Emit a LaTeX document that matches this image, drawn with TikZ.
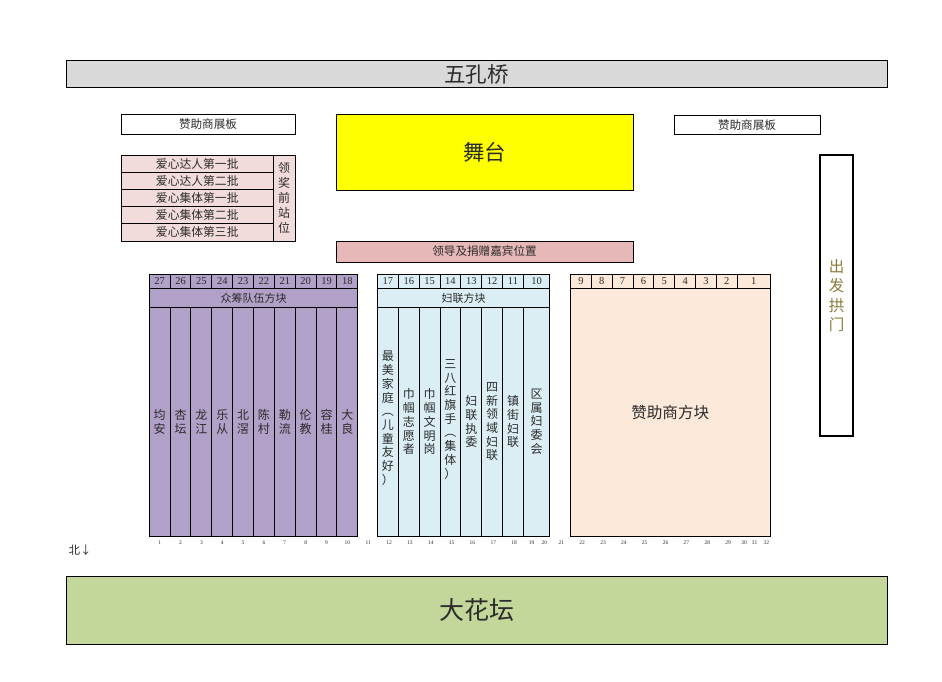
\documentclass[tikz,border=0pt]{standalone}
\usepackage{fontspec}
\usepackage{xcolor}
\setmainfont{Liberation Serif}
\newfontfamily\cjk{Noto Sans CJK SC}
\usetikzlibrary{positioning}
\definecolor{bridgegray}{HTML}{D9D9D9}
\definecolor{stageyellow}{HTML}{FFFF00}
\definecolor{guestpink}{HTML}{E6B8B7}
\definecolor{awardpink}{HTML}{F2DCDB}
\definecolor{crowdpurple}{HTML}{B1A0C7}
\definecolor{womenblue}{HTML}{DAEEF3}
\definecolor{sponsorpeach}{HTML}{FDE9D9}
\definecolor{flowergreen}{HTML}{C4D79B}
\definecolor{archtext}{HTML}{8A7A3A}
\definecolor{inktext}{HTML}{2B2B2B}
\tikzstyle{box} = [rectangle, draw=black, line width=1pt, inner sep=0pt, outer sep=0pt, text centered, text=inktext]
\tikzstyle{banner} = [box, minimum width=821pt, font=\cjk\fontsize{21.5pt}{24pt}\selectfont]
\tikzstyle{board} = [box, minimum height=19.5pt, font=\cjk\fontsize{11.6pt}{13pt}\selectfont]
\tikzstyle{awardrow} = [box, fill=awardpink, minimum width=151.5pt, minimum height=17.2pt, font=\cjk\fontsize{11.8pt}{13pt}\selectfont]
\tikzstyle{numcell} = [box, minimum width=20.85pt, minimum height=14pt, font=\fontsize{10.5pt}{12pt}\selectfont]
\tikzstyle{titlecell} = [box, minimum height=19pt, font=\cjk\fontsize{11pt}{13pt}\selectfont]
\tikzstyle{column} = [box, minimum width=20.85pt, minimum height=228.5pt, align=center, font=\cjk\fontsize{12pt}{13.7pt}\selectfont]
\tikzstyle{tick} = [inner sep=0pt, outer sep=0pt, text=inktext, font=\fontsize{5.5pt}{6pt}\selectfont]
\begin{document}
\begin{tikzpicture}[x=1pt, y=-1pt, node distance=20.85pt]
	\useasboundingbox (0,0) rectangle (942,682);
	%上方
	\node (bridge) [banner, fill=bridgegray, minimum height=26.5pt] at (476.5,74) {五孔桥};
	\node (stage) [banner, fill=stageyellow, minimum width=297pt, minimum height=75.5pt] at (484.5,152.5) {舞台};
	\node (boardl) [board, minimum width=174pt] at (208,124.5) {赞助商展板};
	\node (boardr) [board, minimum width=146pt] at (747,125) {赞助商展板};
	\node (guest) [board, fill=guestpink, minimum width=297pt, minimum height=21pt] at (484.5,251.5) {领导及捐赠嘉宾位置};
	\node (arch) [box, line width=1.6pt, minimum width=33pt, minimum height=281pt, align=center, text=archtext, font=\cjk\fontsize{15.5pt}{19.5pt}\selectfont] at (836.5,295.5) {出\\发\\拱\\门};
	
	%领奖前站位
	\node (award1) [awardrow] at (197.25,163.6) {爱心达人第一批};
	\node (award2) [awardrow, below=0pt of award1] {爱心达人第二批};
	\node (award3) [awardrow, below=0pt of award2] {爱心集体第一批};
	\node (award4) [awardrow, below=0pt of award3] {爱心集体第二批};
	\node (award5) [awardrow, below=0pt of award4] {爱心集体第三批};
	\node (awardside) [box, fill=awardpink, minimum width=22pt, minimum height=86pt, align=center, font=\cjk\fontsize{12pt}{15pt}\selectfont] at (284,198) {领\\奖\\前\\站\\位};
	
	%众筹队伍方块
	\node (n27) [numcell, fill=crowdpurple] at (159.7,281.5) {27};
	\node (n26) [numcell, fill=crowdpurple, right of=n27] {26};
	\node (n25) [numcell, fill=crowdpurple, right of=n26] {25};
	\node (n24) [numcell, fill=crowdpurple, right of=n25] {24};
	\node (n23) [numcell, fill=crowdpurple, right of=n24] {23};
	\node (n22) [numcell, fill=crowdpurple, right of=n23] {22};
	\node (n21) [numcell, fill=crowdpurple, right of=n22] {21};
	\node (n20) [numcell, fill=crowdpurple, right of=n21] {20};
	\node (n19) [numcell, fill=crowdpurple, right of=n20] {19};
	\node (n18) [numcell, fill=crowdpurple, right of=n19] {18};
	\node (crowd) [titlecell, fill=crowdpurple, minimum width=208.5pt] at (253.5,298) {众筹队伍方块};
	\node (town1) [column, fill=crowdpurple] at (159.7,421.75) {均\\安};
	\node (town2) [column, fill=crowdpurple, right of=town1] {杏\\坛};
	\node (town3) [column, fill=crowdpurple, right of=town2] {龙\\江};
	\node (town4) [column, fill=crowdpurple, right of=town3] {乐\\从};
	\node (town5) [column, fill=crowdpurple, right of=town4] {北\\滘};
	\node (town6) [column, fill=crowdpurple, right of=town5] {陈\\村};
	\node (town7) [column, fill=crowdpurple, right of=town6] {勒\\流};
	\node (town8) [column, fill=crowdpurple, right of=town7] {伦\\教};
	\node (town9) [column, fill=crowdpurple, right of=town8] {容\\桂};
	\node (town10) [column, fill=crowdpurple, right of=town9] {大\\良};
	
	%妇联方块
	\node (n17) [numcell, fill=womenblue] at (387.9,281.5) {17};
	\node (n16) [numcell, fill=womenblue, right of=n17] {16};
	\node (n15) [numcell, fill=womenblue, right of=n16] {15};
	\node (n14) [numcell, fill=womenblue, right of=n15] {14};
	\node (n13) [numcell, fill=womenblue, right of=n14] {13};
	\node (n12) [numcell, fill=womenblue, right of=n13] {12};
	\node (n11) [numcell, fill=womenblue, right of=n12] {11};
	\node (n10) [numcell, fill=womenblue, minimum width=26.2pt, right of=n11, xshift=2.7pt] {10};
	\node (women) [titlecell, fill=womenblue, minimum width=172pt] at (463.5,298) {妇联方块};
	\node (group1) [column, fill=womenblue, text depth=8pt] at (387.9,421.75) {最\\美\\家\\庭\\︵\\儿\\童\\友\\好\\）};
	\node (group2) [column, fill=womenblue, right of=group1] {巾\\帼\\志\\愿\\者};
	\node (group3) [column, fill=womenblue, right of=group2] {巾\\帼\\文\\明\\岗};
	\node (group4) [column, fill=womenblue, right of=group3, text depth=6pt] {三\\八\\红\\旗\\手\\︵\\集\\体\\）};
	\node (group5) [column, fill=womenblue, right of=group4] {妇\\联\\执\\委};
	\node (group6) [column, fill=womenblue, right of=group5] {四\\新\\领\\域\\妇\\联};
	\node (group7) [column, fill=womenblue, right of=group6] {镇\\街\\妇\\联};
	\node (group8) [column, fill=womenblue, minimum width=26.2pt, right of=group7, xshift=2.7pt] {区\\属\\妇\\委\\会};
	
	%赞助商方块
	\node (n9) [numcell, fill=sponsorpeach] at (580.9,281.5) {9};
	\node (n8) [numcell, fill=sponsorpeach, right of=n9] {8};
	\node (n7) [numcell, fill=sponsorpeach, right of=n8] {7};
	\node (n6) [numcell, fill=sponsorpeach, right of=n7] {6};
	\node (n5) [numcell, fill=sponsorpeach, right of=n6] {5};
	\node (n4) [numcell, fill=sponsorpeach, right of=n5] {4};
	\node (n3) [numcell, fill=sponsorpeach, right of=n4] {3};
	\node (n2) [numcell, fill=sponsorpeach, right of=n3] {2};
	\node (n1) [numcell, fill=sponsorpeach, minimum width=32.7pt, right of=n2, xshift=5.95pt] {1};
	\node (sponsor) [box, fill=sponsorpeach, minimum width=199.5pt, minimum height=247.5pt, font=\cjk\fontsize{15.6pt}{18pt}\selectfont] at (670.25,412.25) {赞助商方块};
	
	%底部编号
	\node (t1) [tick] at (159.7,542.5) {1};
	\node (t2) [tick, right of=t1] {2};
	\node (t3) [tick, right of=t2] {3};
	\node (t4) [tick, right of=t3] {4};
	\node (t5) [tick, right of=t4] {5};
	\node (t6) [tick, right of=t5] {6};
	\node (t7) [tick, right of=t6] {7};
	\node (t8) [tick, right of=t7] {8};
	\node (t9) [tick, right of=t8] {9};
	\node (t10) [tick, right of=t9] {10};
	\node (t11) [tick, right of=t10] {11};
	\node (t12) [tick, right of=t11] {12};
	\node (t13) [tick, right of=t12] {13};
	\node (t14) [tick, right of=t13] {14};
	\node (t15) [tick, right of=t14] {15};
	\node (t16) [tick, right of=t15] {16};
	\node (t17) [tick, right of=t16] {17};
	\node (t18) [tick, right of=t17] {18};
	\node (t19) [tick, right of=t18, xshift=-3.3pt] {19};
	\node (t20) [tick, right of=t19, xshift=-8.3pt] {20};
	\node (t21) [tick, right of=t20, xshift=-3.8pt] {21};
	\node (t22) [tick, right of=t21] {22};
	\node (t23) [tick, right of=t22] {23};
	\node (t24) [tick, right of=t23] {24};
	\node (t25) [tick, right of=t24] {25};
	\node (t26) [tick, right of=t25] {26};
	\node (t27) [tick, right of=t26] {27};
	\node (t28) [tick, right of=t27] {28};
	\node (t29) [tick, right of=t28] {29};
	\node (t30) [tick, right of=t29, xshift=-4.8pt] {30};
	\node (t31) [tick, right of=t30, xshift=-10.3pt] {31};
	\node (t32) [tick, right of=t31, xshift=-9.3pt] {32};
	
	%下方
	\node (north) [inner sep=0pt, text=inktext, font=\cjk\fontsize{11.5pt}{14pt}\selectfont] at (80,550) {北↓};
	\node (flower) [banner, fill=flowergreen, minimum height=68pt, font=\cjk\fontsize{25pt}{28pt}\selectfont] at (476.5,610) {大花坛};
\end{tikzpicture}
\end{document}
